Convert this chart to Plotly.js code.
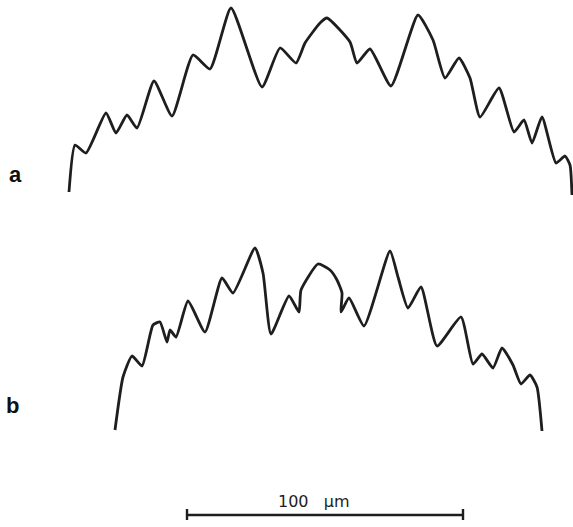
<!DOCTYPE html>
<html>
<head>
<meta charset="utf-8">
<script src="https://cdn.plot.ly/plotly-3.0.1.min.js"></script>
<style>html,body{margin:0;padding:0;background:#fff;}#chart{width:573px;height:527px;}</style>
</head>
<body>
<div id="chart"></div>
<script>
// Profile a (horizontal position, height) in figure units
const profileA_x = [69, 75, 86, 106, 116, 127, 137, 154, 172, 193, 210, 231, 262, 280, 296, 305, 320, 327, 350, 357, 370, 391, 418, 433, 445, 459, 470, 480, 499, 514, 524, 532, 542, 556, 565, 570, 572];
const profileA_y = [192, 145, 153, 113, 133, 115, 128, 81, 116, 55, 69, 8, 87, 48, 63, 43, 23, 18, 42, 63, 49, 86, 15, 40, 78, 58, 78, 117, 88, 132, 120, 143, 117, 163, 156, 165, 195];
// Profile b
const profileB_x = [115, 123, 132, 142, 153, 160, 167, 170, 176, 188, 205, 222, 233, 255, 263, 271, 289, 299, 301, 318, 330, 337, 342, 341, 349, 364, 390, 398, 408, 421, 437, 461, 473, 482, 493, 502, 513, 521, 530, 537, 542];
const profileB_y = [430, 377, 356, 366, 325, 322, 342, 330, 337, 301, 332, 278, 293, 248, 273, 334, 296, 312, 290, 264, 270, 280, 293, 312, 298, 326, 251, 277, 308, 287, 346, 317, 364, 354, 368, 348, 365, 384, 375, 387, 431];
// Scale bar (100 µm)
const scaleStart = 187, scaleEnd = 463, scaleY = 515;
const scaleLabel = "100\u00a0\u00a0\u00a0\u03bcm";
const panelLabels = ["a", "b"];
const panelLabelX = [15, 12];
const panelLabelY = [174, 405];

const lineStyle = {color: '#1e1e1e', width: 2.8, shape: 'spline', smoothing: 0.5};
const traces = [
  {x: profileA_x, y: profileA_y, mode: 'lines', line: lineStyle, hoverinfo: 'skip'},
  {x: profileB_x, y: profileB_y, mode: 'lines', line: lineStyle, hoverinfo: 'skip'},
  {x: [scaleStart, scaleEnd, null, scaleStart, scaleStart, null, scaleEnd, scaleEnd],
   y: [scaleY, scaleY, null, scaleY - 6, scaleY + 5, null, scaleY - 6, scaleY + 5],
   mode: 'lines', line: {color: '#1e1e1e', width: 2.4}, hoverinfo: 'skip'}
];
const annotations = panelLabels.map((t, i) => ({
  x: panelLabelX[i], y: panelLabelY[i], text: '<b>' + t + '</b>', showarrow: false,
  font: {family: 'Liberation Sans, Arial, sans-serif', size: 22, color: '#111'},
  xanchor: 'center', yanchor: 'middle'
}));
annotations.push({x: 314, y: scaleY - 14, text: scaleLabel, showarrow: false,
  font: {family: 'DejaVu Sans, sans-serif', size: 16, color: '#1e1e1e'}, xanchor: 'center', yanchor: 'middle'});

const layout = {
  width: 573, height: 527, margin: {l: 0, r: 0, t: 0, b: 0},
  paper_bgcolor: '#fff', plot_bgcolor: '#fff', showlegend: false,
  xaxis: {range: [0, 573], visible: false, fixedrange: true},
  yaxis: {range: [527, 0], visible: false, fixedrange: true},
  annotations: annotations
};
Plotly.newPlot('chart', traces, layout, {displayModeBar: false, staticPlot: true});
</script>
</body>
</html>
